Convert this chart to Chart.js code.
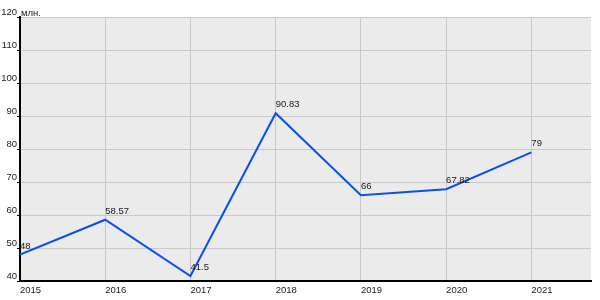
<!DOCTYPE html>
<html><head><meta charset="utf-8">
<script src="https://cdn.jsdelivr.net/npm/chart.js@4"></script>
<style>html,body{margin:0;padding:0;background:#fff}#wrap{width:600px;height:300px}</style>
</head><body><div id="wrap"><canvas id="c" width="600" height="300"></canvas></div>
<script>
const years = [2015, 2016, 2017, 2018, 2019, 2020, 2021];
const values = [48, 58.57, 41.5, 90.83, 66, 67.82, 79];
const valueLabels = ["48", "58.57", "41.5", "90.83", "66", "67.82", "79"];
const unitLabel = "млн.";
const yMin = 40, yMax = 120, yStep = 10;
const xMin = 2015, xMax = 2021.7;

const FONT = "Liberation Sans, Arial, sans-serif";
const FS = 9.5;
const TEXT = '#1a1a1a';

const bgPlugin = {
  id: 'bg',
  beforeDraw(chart) {
    const {ctx, chartArea: a} = chart;
    ctx.save();
    ctx.fillStyle = '#ebebeb';
    ctx.fillRect(a.left, a.top, a.right - a.left, a.bottom - a.top);
    ctx.restore();
  },
  afterDatasetsDraw(chart) {
    const {ctx} = chart;
    const meta = chart.getDatasetMeta(0);
    ctx.save();
    ctx.font = FS + "px " + FONT;
    ctx.fillStyle = TEXT;
    ctx.textAlign = 'left';
    ctx.textBaseline = 'alphabetic';
    meta.data.forEach((pt, i) => {
      ctx.fillText(valueLabels[i], pt.x, pt.y - 6);
    });
    ctx.fillText(unitLabel, 21, 16);
    ctx.restore();
  }
};

new Chart(document.getElementById('c'), {
  type: 'line',
  data: {
    datasets: [{
      data: years.map((y, i) => ({x: y, y: values[i]})),
      borderColor: '#0a50ea',
      borderWidth: 2,
      pointRadius: 0,
      tension: 0,
      fill: false
    }]
  },
  options: {
    responsive: false,
    animation: false,
    layout: {padding: {top: 17, right: 9, left: 0, bottom: 0}},
    plugins: {legend: {display: false}, tooltip: {enabled: false}},
    scales: {
      x: {
        type: 'linear',
        min: xMin, max: xMax,
        afterFit(s) { s.height = 19; },
        ticks: {
          stepSize: 1, includeBounds: false, align: 'start', padding: 4,
          color: TEXT, font: {family: FONT, size: FS},
          callback: v => String(v), maxRotation: 0, autoSkip: false
        },
        grid: {color: '#c8c8c8', lineWidth: 1, drawTicks: false},
        border: {color: '#000', width: 2}
      },
      y: {
        min: yMin, max: yMax,
        afterFit(s) { s.width = 20; },
        ticks: {
          stepSize: yStep, padding: 0, labelOffset: -5,
          color: TEXT, font: {family: FONT, size: FS},
          callback: v => String(v)
        },
        grid: {color: '#c8c8c8', lineWidth: 1, tickLength: 3, tickColor: '#000'},
        border: {color: '#000', width: 2}
      }
    }
  },
  plugins: [bgPlugin]
});
</script>
</body></html>
